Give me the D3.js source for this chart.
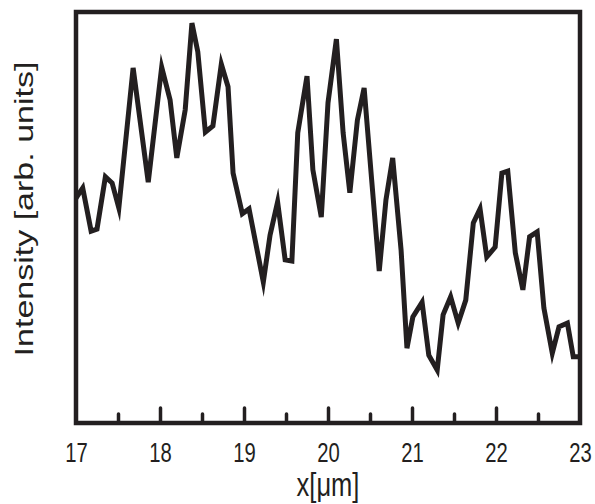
<!DOCTYPE html>
<html>
<head>
<meta charset="utf-8">
<script src="https://cdn.jsdelivr.net/npm/d3@7"></script>
<style>
  body { margin: 0; background: #fff; }
  svg text { font-family: "Liberation Sans", Arial, sans-serif; fill: #231f20; }
</style>
</head>
<body>
<svg class="canvas"></svg>
<script>
// position along the sample (µm)
const xPos = [
  17.00, 17.08, 17.18, 17.25, 17.35, 17.43, 17.51, 17.68, 17.86, 18.02,
  18.12, 18.20, 18.30, 18.38, 18.45, 18.54, 18.63, 18.73, 18.81, 18.87,
  18.98, 19.06, 19.23, 19.31, 19.40, 19.49, 19.57, 19.64, 19.75, 19.82,
  19.92, 20.00, 20.10, 20.18, 20.26, 20.35, 20.43, 20.52, 20.61, 20.69,
  20.77, 20.87, 20.94, 21.01, 21.12, 21.20, 21.30, 21.37, 21.46, 21.55,
  21.64, 21.73, 21.81, 21.89, 21.99, 22.07, 22.14, 22.23, 22.32, 22.40,
  22.49, 22.57, 22.67, 22.75, 22.85, 22.92, 23.00
];

// intensity, arbitrary units
const intensity = [
  54.7, 57.2, 46.7, 47.2, 59.9, 58.4, 52.3, 86.4, 58.6, 86.6,
  78.6, 64.5, 76.2, 97.3, 90.3, 70.8, 72.3, 87.3, 81.8, 60.8,
  50.9, 52.1, 34.3, 45.7, 53.8, 39.7, 39.4, 70.6, 84.4, 61.6,
  50.1, 77.9, 93.4, 70.6, 56.0, 73.7, 81.5, 59.1, 37.0, 54.3,
  64.5, 42.1, 18.2, 25.8, 29.4, 16.5, 12.9, 26.3, 30.7, 24.3,
  29.9, 48.7, 52.1, 40.4, 42.8, 60.8, 61.3, 41.4, 32.4, 45.3,
  46.5, 28.0, 17.0, 23.4, 24.3, 16.1, 16.1
];

const majorTicks = [17, 18, 19, 20, 21, 22, 23];
const minorTicks = [17.5, 18.5, 19.5, 20.5, 21.5, 22.5];
const innerMajor = [18, 19, 20, 21, 22];

const width = 595;
const height = 504;
const margin = { top: 12, right: 15, bottom: 81, left: 76 };
const ink = "#231f20";
// the original figure is squeezed sideways, text included
const squeeze = 0.75;

const svg = d3.select(".canvas")
  .attr("width", width)
  .attr("height", height);

const x = d3.scaleLinear()
  .domain([17, 23])
  .range([margin.left, width - margin.right]);

const y = d3.scaleLinear()
  .domain([0, 100])
  .range([height - margin.bottom, margin.top]);

const points = xPos.map((d, i) => [d, intensity[i]]);

// data line
svg.append("path")
  .datum(points)
  .attr("fill", "none")
  .attr("stroke", ink)
  .attr("stroke-width", 5)
  .attr("stroke-linejoin", "miter")
  .attr("stroke-miterlimit", 6)
  .attr("d", d3.line().x(d => x(d[0])).y(d => y(d[1])));

//ticks pointing into the plot
const bottom = height - margin.bottom;

svg.append("g")
  .attr("class", "major")
  .attr("transform", `translate(0, ${bottom})`)
  .call(d3.axisBottom(x).tickValues(innerMajor).tickSize(-15).tickFormat(""));

svg.append("g")
  .attr("class", "minor")
  .attr("transform", `translate(0, ${bottom})`)
  .call(d3.axisBottom(x).tickValues(minorTicks).tickSize(-9).tickFormat(""));

svg.selectAll(".major .domain, .minor .domain").remove();
svg.selectAll(".major line, .minor line")
  .attr("stroke", ink)
  .attr("stroke-width", 3.5)
  .attr("stroke-linecap", "round");

// tick labels
const labels = svg.append("g")
  .attr("transform", `translate(0, ${bottom})`)
  .call(d3.axisBottom(x).tickValues(majorTicks).tickSize(0).tickPadding(0).tickFormat(d3.format("d")));
labels.select(".domain").remove();
labels.selectAll("text")
  .attr("y", 0)
  .attr("dy", 0)
  .attr("transform", `translate(0, 39) scale(${squeeze}, 1)`)
  .style("font-size", "27px")
  .style("font-family", "'Liberation Sans', Arial, sans-serif")
  .attr("fill", ink);

// frame
svg.append("rect")
  .attr("x", margin.left)
  .attr("y", margin.top)
  .attr("width", width - margin.left - margin.right)
  .attr("height", height - margin.top - margin.bottom)
  .attr("fill", "none")
  .attr("stroke", ink)
  .attr("stroke-width", 4.5);

// axis titles
svg.append("text")
  .attr("transform", `translate(${(margin.left + width - margin.right) / 2}, 496) scale(${squeeze}, 1)`)
  .attr("text-anchor", "middle")
  .style("font-size", "34px")
  .text("x[μm]");

svg.append("text")
  .attr("transform", `translate(33, 209) scale(${squeeze}, 1) rotate(-90)`)
  .attr("text-anchor", "middle")
  .style("font-size", "34px")
  .text("Intensity [arb. units]");
</script>
</body>
</html>
